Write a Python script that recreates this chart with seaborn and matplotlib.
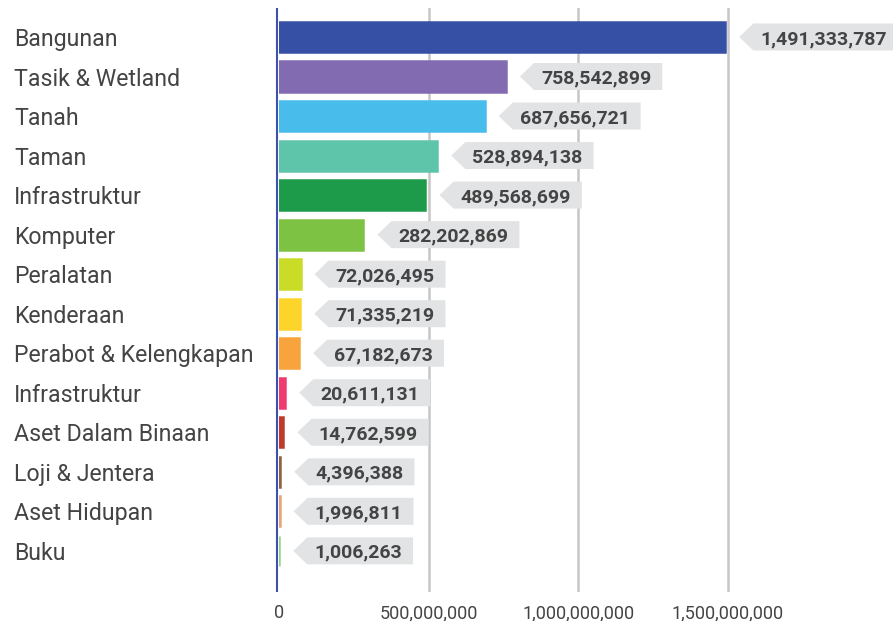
import matplotlib
matplotlib.use("Agg")
import matplotlib.pyplot as plt
import seaborn as sns
import pandas as pd
from matplotlib.patches import Polygon
from matplotlib import transforms

categories = ["Bangunan", "Tasik & Wetland", "Tanah", "Taman", "Infrastruktur",
              "Komputer", "Peralatan", "Kenderaan", "Perabot & Kelengkapan",
              "Infrastruktur", "Aset Dalam Binaan", "Loji & Jentera",
              "Aset Hidupan", "Buku"]
values = [1491333787, 758542899, 687656721, 528894138, 489568699,
          282202869, 72026495, 71335219, 67182673,
          20611131, 14762599, 4396388, 1996811, 1006263]
colors = ["#3550A5", "#836BB2", "#48BCEA", "#5EC4AA", "#1D9A4A",
          "#7DC242", "#CADC28", "#FDD42A", "#F9A33D",
          "#EE3B72", "#BE3A2A", "#8B6242", "#E7A77C", "#93D38F"]
tick_values = [0, 500_000_000, 1_000_000_000, 1_500_000_000]

sns.set_theme(style="white")
plt.rcParams['font.family'] = ['Roboto', 'DejaVu Sans']

W, H = 893, 621
fig = plt.figure(figsize=(W / 100, H / 100), dpi=100)
ax = fig.add_axes([279 / W, 29 / H, 614 / W, 584 / H])

keys = [f"k{i}" for i in range(len(categories))]
df = pd.DataFrame({"key": keys, "value": values})
sns.barplot(data=df, x="value", y="key", hue="key", palette=colors,
            order=keys, hue_order=keys, legend=False, width=0.76,
            saturation=1, ax=ax, zorder=2)
for p, c in zip(ax.patches, colors):
    p.set_edgecolor(c)
    p.set_linewidth(1.8)

ax.set_xlim(0, 2052e6)
ax.set_ylim(14.04, -0.733)
for s in ax.spines.values():
    s.set_visible(False)
ax.set_ylabel("")
ax.set_xlabel("")
ax.set_yticks([])
ax.set_xticks(tick_values)
ax.set_xticklabels([f"{v:,}" for v in tick_values], fontsize=13, color="#444444")
ax.tick_params(axis="x", length=0, pad=9)

for v in tick_values[1:]:
    ax.axvline(v, color="#c6c6c6", lw=1.8, zorder=0)
line_tr = ax.get_xaxis_transform() + transforms.ScaledTranslation(-1.6 / 100, 0, fig.dpi_scale_trans)
ax.plot([0, 0], [0, 1], transform=line_tr, color="#3d52b0", lw=1.5, zorder=3,
        solid_capstyle="butt", clip_on=False)

# category labels (baseline placed below row centre)
lab_tr = transforms.blended_transform_factory(fig.transFigure, ax.transData)
lab_tr = lab_tr + transforms.ScaledTranslation(0, -9 / 100, fig.dpi_scale_trans)
for i, c in enumerate(categories):
    fig.text(14 / W, i, c, transform=lab_tr, ha="left", va="baseline",
             fontsize=16.7, color="#444444")

# value tags
renderer = fig.canvas.get_renderer()
inv = ax.transData.inverted()
arrow = 14
half_h = 13.5
for i, v in enumerate(values):
    xe, yc = ax.transData.transform((v, i))
    tip = xe + 14
    tx = tip + arrow + 7
    t = ax.text(tx, yc - 7, f"{v:,}", transform=None, ha="left", va="baseline",
                fontsize=14, fontweight="bold", color="#444444", zorder=6)
    bb = t.get_window_extent(renderer)
    right = bb.x1 + 11
    pts_px = [(tip, yc), (tip + arrow, yc + half_h), (right, yc + half_h),
              (right, yc - half_h), (tip + arrow, yc - half_h)]
    pts = inv.transform(pts_px)
    ax.add_patch(Polygon(pts, closed=True, facecolor="#e2e3e5",
                         edgecolor="none", zorder=5, clip_on=False))

fig.savefig("out.png", dpi=100)
